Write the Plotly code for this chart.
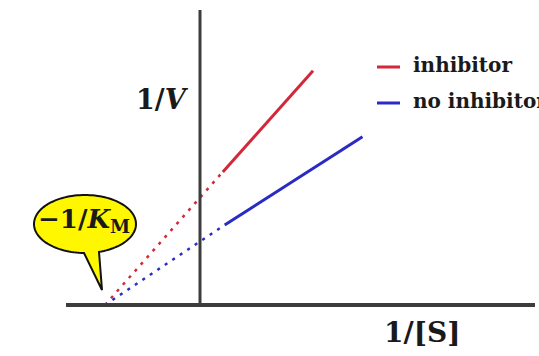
import numpy as np
import plotly.graph_objects as go

# Lineweaver-Burk plot: 1/V against 1/[S], with and without a noncompetitive inhibitor
series_names = ["inhibitor", "no inhibitor"]

# measured range of each line (1/[S], 1/V)
inhib_x = [0.24, 1.19]
inhib_y = [2.08, 3.66]
noinhib_x = [0.26, 1.71]
noinhib_y = [1.25, 2.63]

# common x-intercept, -1/K_M
km_intercept = [-1.0, 0.0]

RED = "#d3283a"
BLUE = "#2a2ac4"
AXIS = "#3c3c3c"
TEXT = "#1a1a1a"
SERIF = "DejaVu Serif"

W, H = 539, 356
X_RANGE = [-2.105, 3.568]
Y_RANGE = [-0.797, 4.766]


def px_to_x(px):
    return X_RANGE[0] + px / W * (X_RANGE[1] - X_RANGE[0])


def py_to_y(py):
    return Y_RANGE[1] - py / H * (Y_RANGE[1] - Y_RANGE[0])


fig = go.Figure()

# extrapolated (dotted) parts back to the x-intercept
for xs, ys, col in [(inhib_x, inhib_y, RED), (noinhib_x, noinhib_y, BLUE)]:
    fig.add_trace(go.Scatter(
        x=[km_intercept[0], xs[0]], y=[km_intercept[1], ys[0]],
        mode="lines", line=dict(color=col, width=2.5, dash="3px,6px"),
        showlegend=False, hoverinfo="skip"))

# measured parts (solid)
for xs, ys, col, name in [(inhib_x, inhib_y, RED, series_names[0]),
                          (noinhib_x, noinhib_y, BLUE, series_names[1])]:
    fig.add_trace(go.Scatter(
        x=xs, y=ys, mode="lines", name=name,
        line=dict(color=col, width=3), showlegend=False))

shapes = []
# axes
shapes.append(dict(type="line", xref="x", yref="y", x0=px_to_x(66), x1=px_to_x(535),
                   y0=0, y1=0, line=dict(color=AXIS, width=4)))
shapes.append(dict(type="line", xref="x", yref="y", x0=0, x1=0,
                   y0=0, y1=py_to_y(10), line=dict(color=AXIS, width=3)))

# speech bubble pointing at -1/K_M
cx, cy, rx, ry = 85, 224, 51, 29
tip = (102, 290)
a_right = np.arccos((99 - cx) / rx)
a_left = np.arccos((84 - cx) / rx)
angles = np.linspace(a_right, a_left - 2 * np.pi, 120)
pts = [(cx + rx * np.cos(a), cy + ry * np.sin(a)) for a in angles]
pts.append(tip)
path = "M " + " L ".join(f"{px_to_x(p[0]):.4f},{py_to_y(p[1]):.4f}" for p in pts) + " Z"
shapes.append(dict(type="path", xref="x", yref="y", path=path,
                   fillcolor="#fff700", line=dict(color="#111111", width=2)))

# legend keys
for py, col in [(67, RED), (103, BLUE)]:
    shapes.append(dict(type="line", xref="paper", yref="paper",
                       x0=377 / W, x1=400 / W, y0=1 - py / H, y1=1 - py / H,
                       line=dict(color=col, width=3)))


def serif(size):
    return dict(family=SERIF, size=size, color=TEXT, weight="bold")


annotations = [
    dict(text="−1/<i>K</i><sub>M</sub>", x=px_to_x(84), y=py_to_y(220), xref="x", yref="y",
         xanchor="center", yanchor="middle", showarrow=False, font=serif(26)),
    dict(text="1/<i>V</i>", x=px_to_x(162), y=py_to_y(99), xref="x", yref="y",
         xanchor="center", yanchor="middle", showarrow=False, font=serif(27)),
    dict(text="1/[S]", x=px_to_x(422), y=py_to_y(332), xref="x", yref="y",
         xanchor="center", yanchor="middle", showarrow=False, font=serif(28)),
    dict(text="inhibitor", x=411 / W, y=1 - 65 / H, xref="paper", yref="paper",
         xanchor="left", yanchor="middle", showarrow=False, font=serif(20)),
    dict(text="no inhibitor", x=411 / W, y=1 - 101 / H, xref="paper", yref="paper",
         xanchor="left", yanchor="middle", showarrow=False, font=serif(20)),
]

fig.update_layout(
    width=W, height=H, margin=dict(l=0, r=0, t=0, b=0),
    paper_bgcolor="white", plot_bgcolor="white",
    xaxis=dict(range=X_RANGE, visible=False, fixedrange=True),
    yaxis=dict(range=Y_RANGE, visible=False, fixedrange=True),
    shapes=shapes, annotations=annotations, showlegend=False,
)

fig.write_html("out.html")
